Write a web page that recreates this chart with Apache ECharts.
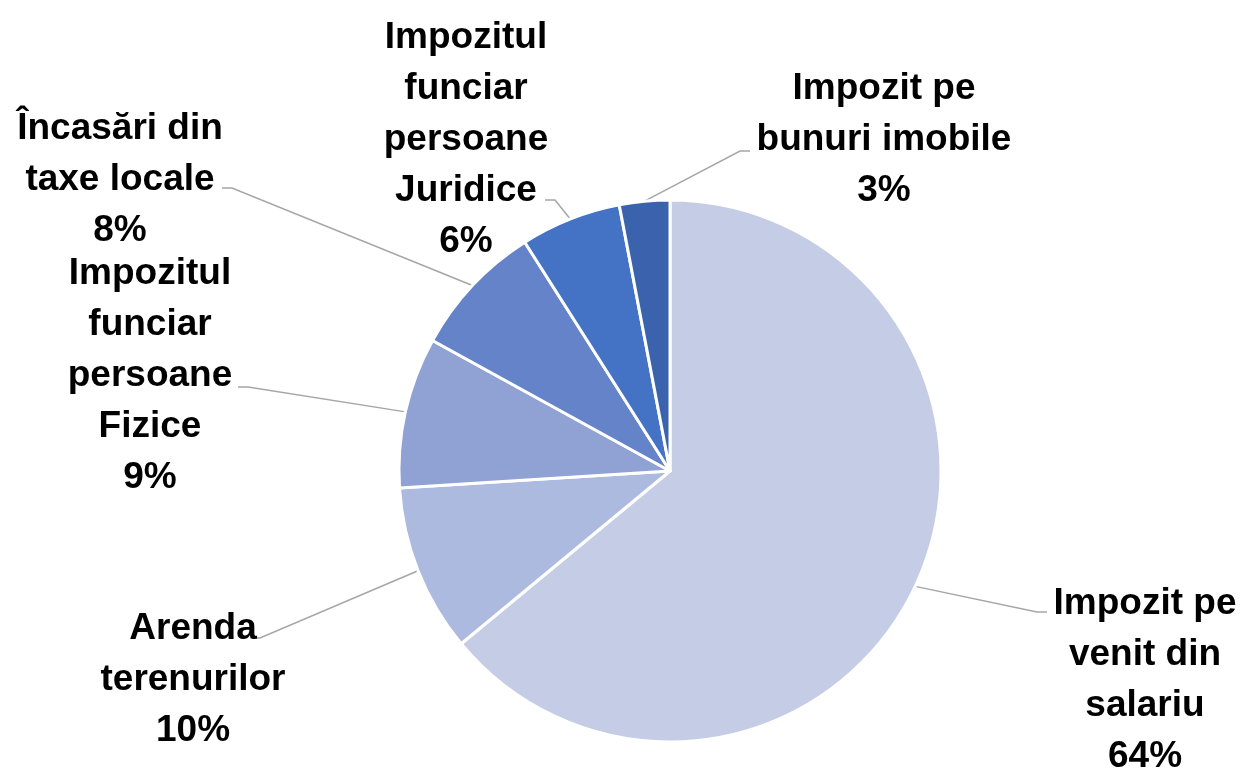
<!DOCTYPE html>
<html>
<head>
<meta charset="utf-8">
<script src="https://cdn.jsdelivr.net/npm/echarts@6/dist/echarts.min.js"></script>
<style>
  html, body { margin: 0; padding: 0; background: #fff; }
  #pie { width: 1245px; height: 770px; }
</style>
</head>
<body>
<div id="pie"></div>
<script>
// categorii (cu rupturi de rand ca in eticheta originala)
const categories = [
  'Impozit pe\nvenit din\nsalariu',
  'Arenda\nterenurilor',
  'Impozitul\nfunciar\npersoane\nFizice',
  'Încasări din\ntaxe locale',
  'Impozitul\nfunciar\npersoane\nJuridice',
  'Impozit pe\nbunuri imobile'
]
const values = [64, 10, 9, 8, 6, 3]
const colors = ['#c5cde6', '#adbadf', '#8fa2d3', '#6483c8', '#4472c4', '#3b63ad']

// pozitia etichetelor (centrul blocului de text)
const labelPos = [
  [1145, 680],
  [193, 680],
  [150, 376],
  [120, 180],
  [466, 140],
  [884, 140]
]
// capatul liniei de legatura: [x, y, directia cozii orizontale]
const lineEnd = [
  [1047, 612, -1],
  [250, 638, 1],
  [238, 387, 1],
  [222, 188, 1],
  [545, 200, 1],
  [750, 151, -1]
]

const myChart = echarts.init(document.getElementById('pie'))

const option = {
  animation: false,
  series: [
    {
      type: 'pie',
      center: [670, 471],
      radius: 271,
      startAngle: 90,
      clockwise: true,
      itemStyle: {
        borderColor: '#fff',
        borderWidth: 3
      },
      label: {
        show: true,
        formatter: '{b}\n{d}%',
        fontFamily: 'Liberation Sans',
        fontWeight: 'bold',
        fontSize: 37,
        lineHeight: 51,
        color: '#000',
        align: 'center'
      },
      labelLine: {
        show: true,
        lineStyle: { color: '#a6a6a6', width: 1.5 }
      },
      labelLayout: function (params) {
        const i = params.dataIndex
        const p = labelPos[i]
        const e = lineEnd[i]
        const start = params.labelLinePoints ? params.labelLinePoints[0] : [e[0], e[1]]
        return {
          x: p[0],
          y: p[1],
          align: 'center',
          verticalAlign: 'middle',
          labelLinePoints: [start, [e[0] + e[2] * 10, e[1]], [e[0], e[1]]]
        }
      },
      data: categories.map((name, i) => ({
        name: name,
        value: values[i],
        itemStyle: { color: colors[i] }
      }))
    }
  ]
}

myChart.setOption(option)
</script>
</body>
</html>
